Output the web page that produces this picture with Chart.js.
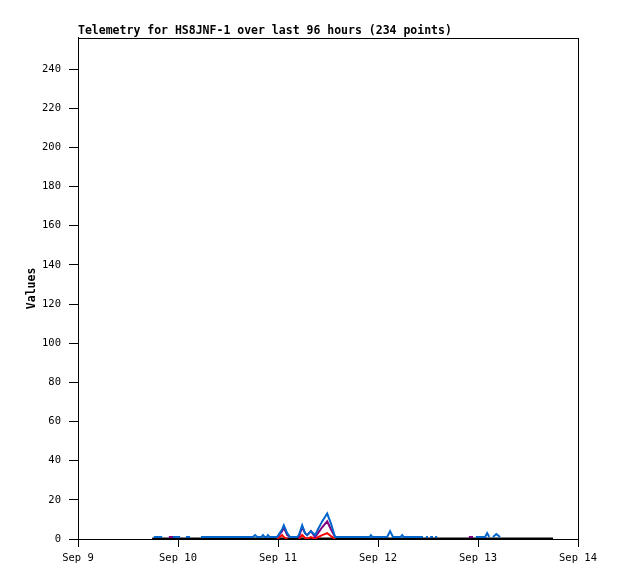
<!doctype html>
<html>
<head>
    <script src="https://cdn.jsdelivr.net/npm/chart.js@4.4.0/dist/chart.umd.min.js"></script>
    <style>
        body { margin: 0; background: #fff; }
        #wrap { width: 618px; height: 579px; }
    </style>
</head>
<body>
<div id="wrap"><canvas id="chart" width="618" height="579"></canvas></div>
<script>
// hours since Sep 9 00:00
const hours = [17.8, 18.2, 20.2, 21.0, 21.8, 22.8, 24.5, 25.2, 25.9, 26.9, 28.0, 29.5,
    42.0, 42.5, 43.0, 44.0, 44.4, 44.8, 45.3, 45.6, 46.0, 47.8, 49.0, 49.4, 50.2, 50.9,
    52.6, 53.0, 53.8, 54.5, 55.0, 55.9, 56.9, 57.6, 58.6, 59.8, 60.7, 61.7, 62.5, 70.0,
    70.3, 70.7, 72.5, 73.7, 74.2, 74.9, 75.6, 77.4, 77.8, 78.2, 82.8, 83.2, 83.5, 84.0,
    84.2, 84.5, 85.2, 85.4, 85.7, 86.2, 87.0, 93.8, 94.8, 95.2, 95.5, 97.7, 98.2, 98.7,
    99.2, 99.6, 100.4, 101.3, 102.0, 114.0];
const blueVals = [null, 1, 1, null, null, 1, 1, null, 1, 1, null, 1,
    1, 2, 1, 1, 2, 1, 1, 2, 1, 1, 5, 7, 3, 1,
    1, 2, 7, 3, 2, 4, 2, 5, 9, 13, 8, 1, 1, 1,
    2, 1, 1, 1, 1, 4, 1, 1, 2, 1, 1, null, 1, 1,
    null, 1, 1, null, 1, 1, null, null, null, null, 1, 1, 3, 1,
    null, 1, 2.5, 1, null, null];
const purpleVals = [null, null, null, null, 1, 1, 1, null, null, null, null, null,
    null, null, null, null, null, null, null, null, null, 1, 4, 6, 2, 1,
    1, 1, 6, 3, 2, 4, 1, 3, 6, 9, 5, 1, null, null,
    null, null, 1, 1, null, null, null, null, null, null, null, null, null, null,
    null, null, null, null, null, null, null, 1, 1, null, 1, 1, null, null,
    null, null, null, null, null, null];
const redVals = [null, null, null, null, null, null, null, null, null, null, null, null,
    null, null, null, null, null, null, null, null, null, 0, 2, 1, 0, null,
    null, 0, 2, 0.5, 0, 1, 0, 1, 2, 3, 1.5, 0, null, null,
    null, null, null, null, null, null, null, null, null, null, null, null, null, null,
    null, null, null, null, null, null, null, null, null, null, null, null, null, null,
    null, null, null, null, null, null];
const blackVals = hours.map(() => 0);
const dayLabels = ['Sep 9', 'Sep 10', 'Sep 11', 'Sep 12', 'Sep 13', 'Sep 14'];

function pts(vals) {
    return hours.map((h, i) => ({ x: h, y: vals[i] }));
}

const mono = 'DejaVu Sans Mono';

const frame = {
    id: 'frame',
    beforeDatasetsDraw(chart) {
        const { ctx, chartArea: a } = chart;
        ctx.save();
        ctx.strokeStyle = '#000';
        ctx.lineWidth = 1;
        ctx.strokeRect(Math.round(a.left) + 0.5, Math.round(a.top) + 0.5,
            Math.round(a.right - a.left), Math.round(a.bottom - a.top));
        ctx.restore();
    }
};

const config = {
    type: 'line',
    data: {
        datasets: [
            { label: 'blue', data: pts(blueVals), borderColor: '#0066cc', borderWidth: 2 },
            { label: 'purple', data: pts(purpleVals), borderColor: '#800080', borderWidth: 2 },
            { label: 'red', data: pts(redVals), borderColor: '#ff0000', borderWidth: 2 },
            { label: 'black', data: pts(blackVals), borderColor: '#000000', borderWidth: 3 }
        ]
    },
    options: {
        responsive: false,
        animation: false,
        spanGaps: false,
        elements: { point: { radius: 0 }, line: { tension: 0 } },
        layout: { padding: { left: 0, right: 40, top: 0, bottom: 0 } },
        plugins: {
            legend: { display: false },
            tooltip: { enabled: false },
            title: {
                display: true,
                text: 'Telemetry for HS8JNF-1 over last 96 hours (234 points)',
                align: 'start',
                fullSize: false,
                color: '#000',
                font: { family: mono, size: 11.5, weight: 'bold' },
                padding: { top: 24, bottom: 0 }
            }
        },
        scales: {
            x: {
                type: 'linear',
                min: 0,
                max: 120,
                afterFit: s => { s.height = 40; },
                border: { display: true, color: '#000' },
                grid: { drawOnChartArea: false, drawTicks: true, tickLength: 8, color: '#000' },
                ticks: {
                    stepSize: 24,
                    color: '#000',
                    font: { family: mono, size: 10.5 },
                    padding: 5,
                    maxRotation: 0,
                    callback: v => dayLabels[v / 24]
                }
            },
            y: {
                min: 0,
                max: 256,
                afterFit: s => { s.width = 78; },
                afterBuildTicks: s => { s.ticks = s.ticks.filter(t => t.value % 20 === 0); },
                border: { display: true, color: '#000' },
                grid: { drawOnChartArea: false, drawTicks: true, tickLength: 9, color: '#000' },
                title: {
                    display: true,
                    text: 'Values',
                    color: '#000',
                    font: { family: mono, size: 11.5, weight: 'bold' },
                    padding: { top: 25, bottom: 0 }
                },
                ticks: {
                    stepSize: 20,
                    color: '#000',
                    font: { family: mono, size: 10.5 },
                    padding: 8
                }
            }
        }
    },
    plugins: [frame]
};

const chart = new Chart(document.getElementById('chart').getContext('2d'), config);
</script>
</body>
</html>
